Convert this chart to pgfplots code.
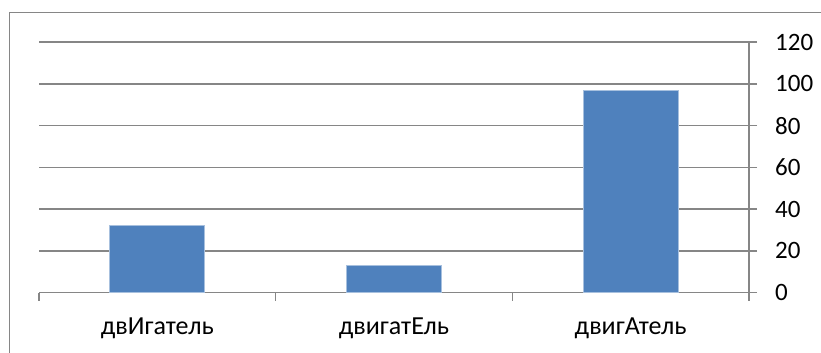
\documentclass[border=0pt]{standalone}
\usepackage{fontspec}
\setmainfont{Carlito}
\usepackage{pgfplots}
\pgfplotsset{compat=1.18}
\definecolor{barblue}{HTML}{4F81BD}
\definecolor{baredge}{HTML}{A7C0DE}
\definecolor{axgray}{HTML}{868686}

\begin{document}
\begin{tikzpicture}
  \begin{axis}[
    scale only axis, width=710bp, height=250.7bp,
    xmin=-0.5, xmax=2.5, ymin=0, ymax=120,
    axis x line=bottom, axis y line=right,
    axis line style={-, axgray, line width=1.5bp},
    ytick={0,20,...,120},
    ymajorgrids, grid style={axgray, line width=1.5bp},
    tick align=outside, major tick length=8bp,
    tick style={axgray, line width=1.5bp},
    % category boundaries carry the ticks, category centres the names
    xtick={-0.5,0.5,1.5,2.5},
    xticklabels={},
    extra x ticks={0,1,2},
    extra x tick labels={двИгатель, двигатЕль, двигАтель},
    extra x tick style={major tick length=0pt,
      xticklabel style={font=\fontsize{26bp}{31bp}\selectfont}},
    ticklabel style={font=\fontsize{25bp}{30bp}\selectfont, text=black},
    /pgf/number format/assume math mode=true,
    xticklabel style={anchor=base, yshift=-42bp},
    yticklabel style={anchor=west, inner sep=0pt, xshift=18bp},
    ybar, bar width=95bp,
    clip=false,
  ]
    \addplot[fill=barblue, draw=baredge, line width=0.75bp]
      coordinates {(0,32) (1,13) (2,97)};
    \coordinate (lo) at (rel axis cs:0,0);
    \coordinate (hi) at (rel axis cs:1,1);
  \end{axis}
  % chart area frame, running past the right and bottom edges
  \draw[axgray, line width=1.5bp]
    ([xshift=-29.5bp, yshift=-80bp]lo) |- ([xshift=100bp, yshift=29.3bp]hi);
  \pgfresetboundingbox
  \path[use as bounding box]
    ([xshift=-39bp, yshift=-60.3bp]lo) rectangle ([xshift=72bp, yshift=42bp]hi);
\end{tikzpicture}
\end{document}
